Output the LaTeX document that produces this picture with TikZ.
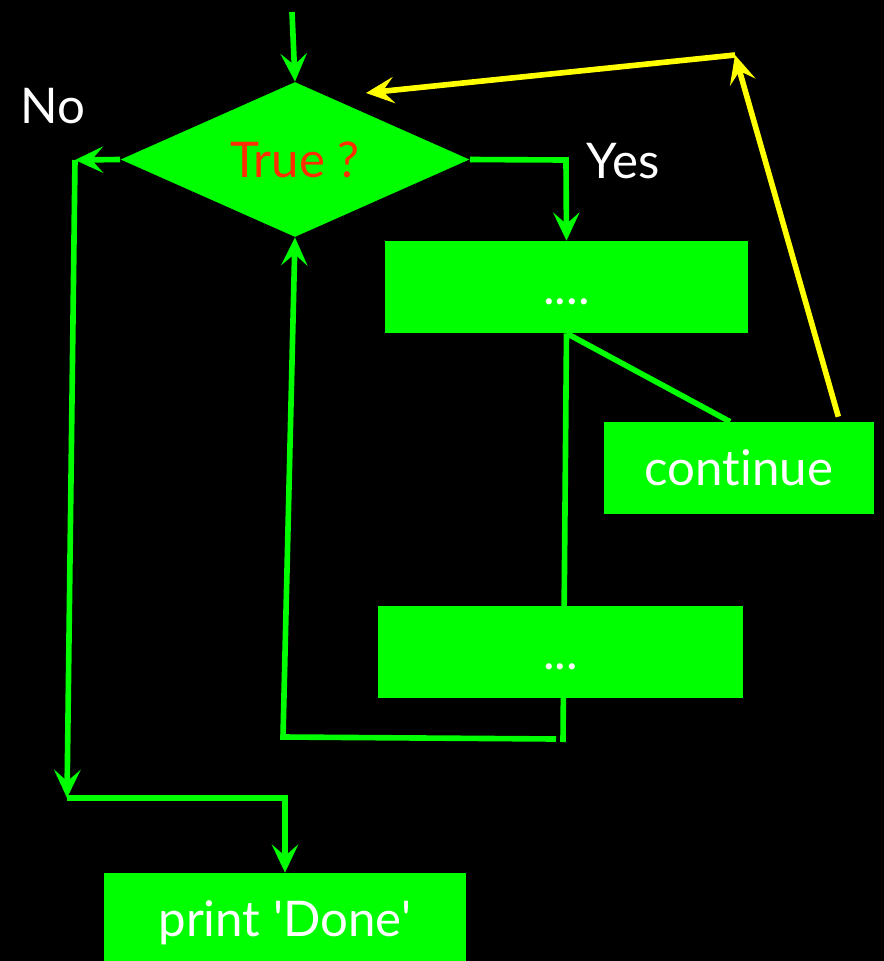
\documentclass[tikz,border=0pt]{standalone}
\usepackage{fontspec}
\setmainfont[Ligatures=NoCommon]{Lato}
\usetikzlibrary{shapes.geometric,arrows.meta,calc}
\definecolor{flowgreen}{RGB}{0,255,0}
\definecolor{flowyellow}{RGB}{255,255,0}
\definecolor{flowred}{RGB}{255,45,0}
\tikzset{
	bigfont/.style={font=\fontsize{28}{34}\selectfont},
	flowbox/.style={bigfont, fill=flowgreen, text=white, inner sep=0pt, minimum height=1.84cm, text height=22pt, text depth=2pt},
	decision/.style={diamond, aspect=2.25, bigfont, fill=flowgreen, text=flowred, inner sep=0pt, minimum width=6.98cm, minimum height=3.1cm, text height=22pt, text depth=2pt},
	answer/.style={bigfont, text=white},
	flowline/.style={flowgreen, line width=3.2pt},
	flowarrow/.style={flowline, -{Stealth[length=16pt,width=15pt,inset=6.5pt]}},
	backarrow/.style={flowyellow, line width=3.2pt, -{Stealth[length=16pt,width=15pt,inset=6.5pt]}}
}
\begin{document}
\begin{tikzpicture}[x=0.02cm,y=-0.02cm]
		\fill[black] (0,0) rectangle (884,961);
		\useasboundingbox (0,0) rectangle (884,961);
		\node[decision] (test) at (295,159.5) {True ?};
		\node[flowbox, minimum width=7.26cm] (body) at (566.5,287) {....};
		\node[flowbox, minimum width=5.4cm] (cont) at (739,468) {continue};
		\node[flowbox, minimum width=7.24cm] (done) at (285,919) {print \textquotesingle Done\textquotesingle};
		\node[answer] (no) at (53,106) {No};
		\node[answer] (yes) at (623,161) {Yes};
		\coordinate (start) at (292,12);
		\coordinate (noleft) at (75,160);
		\coordinate (nodown) at (67,798);
		\coordinate (noright) at (285,798);
		\coordinate (yesright) at (566,160);
		\coordinate (loopend) at (563,742);
		\coordinate (loopright) at (556,739);
		\coordinate (loopleft) at (283,737);
		\coordinate (conttop) at (735,55);
		\coordinate (contend) at (366,93);
		% loop body runs behind the second box
		\draw[flowline] (body.south) -- (loopend);
		\node[flowbox, minimum width=7.3cm] (rest) at (560.5,652) {...};
		\draw[flowarrow] (start) -- (test.north);
		\draw[flowarrow] (test.west) -- (noleft);
		\draw[flowarrow] (noleft) -- (nodown);
		\draw[flowarrow] (nodown) -- (noright) -- (done.north);
		\draw[flowarrow] (test.east) -- (yesright) -- (body.north);
		\draw[flowline] (body.south) -- ($(cont.north)+(-9,0)$);
		\draw[flowarrow] (loopright) -- (loopleft) -- (test.south);
		\draw[backarrow] ($(cont.north east)+(-36,-5)$) -- (conttop);
		\draw[backarrow] (conttop) -- (contend);
		\end{tikzpicture}
\end{document}
